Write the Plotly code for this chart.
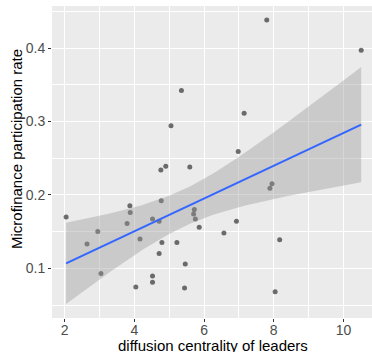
import numpy as np
import plotly.graph_objects as go

# diffusion centrality of leaders (x) and microfinance participation rate (y)
centrality = [2.04, 2.64, 2.95, 3.04, 3.79, 3.87, 3.88, 4.16, 4.04, 4.52,
              4.52, 4.52, 4.71, 4.77, 4.76, 4.90, 4.79, 4.71, 5.22, 5.46,
              5.44, 5.59, 5.72, 5.70, 5.75, 5.86, 6.57, 6.93, 6.98, 7.15,
              7.80, 10.51, 7.89, 7.95, 8.17, 8.04, 5.35, 5.05]
participation = [0.170, 0.133, 0.150, 0.093, 0.161, 0.185, 0.176, 0.140, 0.0745, 0.0895,
                 0.081, 0.167, 0.164, 0.192, 0.234, 0.239, 0.135, 0.120, 0.135, 0.106,
                 0.073, 0.238, 0.180, 0.174, 0.167, 0.156, 0.148, 0.164, 0.259, 0.311,
                 0.438, 0.397, 0.209, 0.215, 0.139, 0.068, 0.342, 0.294]

x_ticks = [2, 4, 6, 8, 10]
y_ticks = [0.1, 0.2, 0.3, 0.4]
y_tick_labels = ["0.1", "0.2", "0.3", "0.4"]

x = np.array(centrality)
y = np.array(participation)
n = len(x)
b1, b0 = np.polyfit(x, y, 1)
xs = np.linspace(x.min(), x.max(), 80)
fit = b0 + b1 * xs
resid = y - (b0 + b1 * x)
s = np.sqrt(np.sum(resid ** 2) / (n - 2))
sxx = np.sum((x - x.mean()) ** 2)
se = s * np.sqrt(1.0 / n + (xs - x.mean()) ** 2 / sxx)
t_crit = 2.028
upper = fit + t_crit * se
lower = fit - t_crit * se

fig = go.Figure()
fig.add_trace(go.Scatter(x=x, y=y, mode="markers",
                         marker=dict(color="rgba(0,0,0,0.55)", size=5, line=dict(width=0)),
                         hoverinfo="skip", showlegend=False))
fig.add_trace(go.Scatter(x=np.concatenate([xs, xs[::-1]]),
                         y=np.concatenate([upper, lower[::-1]]),
                         fill="toself", fillcolor="rgba(153,153,153,0.4)",
                         line=dict(width=0), mode="lines", hoverinfo="skip", showlegend=False))
fig.add_trace(go.Scatter(x=xs, y=fit, mode="lines",
                         line=dict(color="#3366FF", width=2), hoverinfo="skip", showlegend=False))

axis_common = dict(showgrid=True, gridcolor="white", gridwidth=1.2, zeroline=False,
                   showline=False, ticks="outside", ticklen=3, tickwidth=1, tickcolor="#333333",
                   tickfont=dict(family="Liberation Sans, Arial, sans-serif", size=14, color="#4D4D4D"))

fig.update_xaxes(range=[1.635, 10.82], tickvals=x_ticks, ticktext=[str(v) for v in x_ticks],
                 ticklabelstandoff=-4,
                 minor=dict(dtick=1, tick0=1, showgrid=True, gridcolor="white", gridwidth=0.6, ticks=""),
                 **axis_common)
fig.update_yaxes(range=[0.0323, 0.4572], tickvals=y_ticks, ticktext=y_tick_labels,
                 minor=dict(dtick=0.1, tick0=0.05, showgrid=True, gridcolor="white", gridwidth=0.6, ticks=""),
                 **axis_common)

fig.update_layout(
    width=372, height=352,
    margin=dict(l=52, r=0, t=6, b=34),
    paper_bgcolor="white", plot_bgcolor="#EBEBEB",
    font=dict(family="Liberation Sans, Arial, sans-serif"),
    annotations=[
        dict(text="diffusion centrality of leaders", xref="paper", yref="paper",
             x=(213 - 52) / 320, y=(318 - 345) / 312, xanchor="center", yanchor="middle",
             showarrow=False, font=dict(size=15, color="black")),
        dict(text="Microfinance participation rate", xref="paper", yref="paper",
             x=(16 - 52) / 320, y=(318 - 149) / 312, xanchor="center", yanchor="middle",
             textangle=-90, showarrow=False, font=dict(size=15, color="black")),
    ],
)

fig.write_html("out.html")
